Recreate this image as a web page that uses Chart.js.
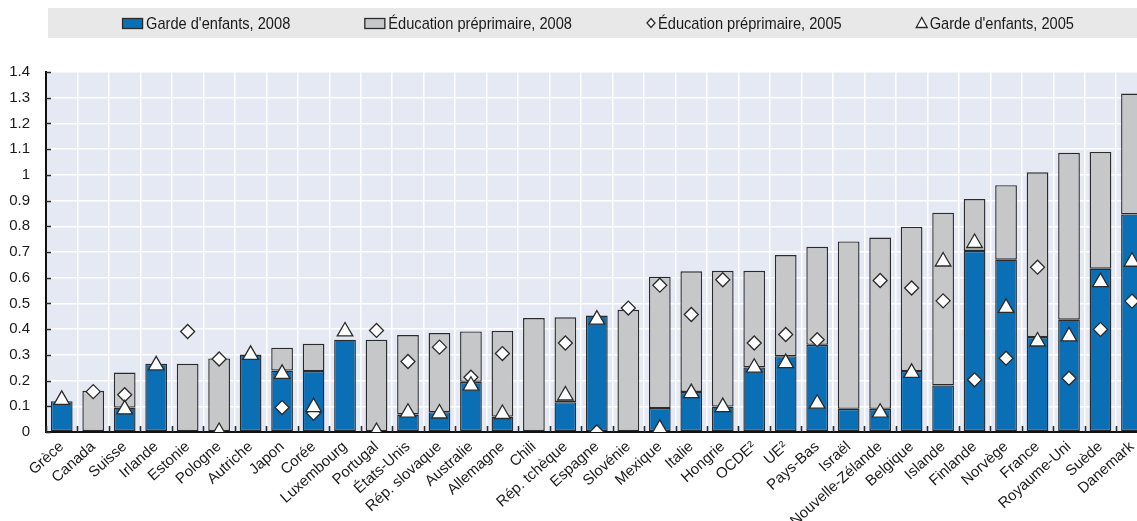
<!DOCTYPE html>
<html lang="fr">
<head>
<meta charset="utf-8">
<title>Dépenses publiques : garde d'enfants et éducation préprimaire</title>
<script src="https://cdn.jsdelivr.net/npm/chart.js@4.4.1/dist/chart.umd.min.js"></script>
<style>
  html, body { margin: 0; padding: 0; background: #ffffff; overflow: hidden; }
  #wrap { position: relative; width: 1137px; height: 521px; overflow: hidden; }
  canvas { display: block; }
</style>
</head>
<body>
<div id="wrap"><canvas id="chart" width="1158" height="521"></canvas></div>
<script>
// Pays, classés par dépense totale 2008
const countries = [
  'Grèce', 'Canada', 'Suisse', 'Irlande', 'Estonie', 'Pologne', 'Autriche', 'Japon', 'Corée',
  'Luxembourg', 'Portugal', 'États-Unis', 'Rép. slovaque', 'Australie', 'Allemagne', 'Chili',
  'Rép. tchèque', 'Espagne', 'Slovénie', 'Mexique', 'Italie', 'Hongrie', 'OCDE²', 'UE²',
  'Pays-Bas', 'Israël', 'Nouvelle-Zélande', 'Belgique', 'Islande', 'Finlande', 'Norvège',
  'France', 'Royaume-Uni', 'Suède', 'Danemark'
];

// Garde d'enfants, 2008 (% du PIB)
const gardeEnfants2008 = [
  0.12, null, 0.095, 0.265, null, null, 0.301, 0.239, 0.237,
  0.359, null, 0.068, 0.077, 0.195, 0.06, null,
  0.116, 0.453, null, 0.093, 0.156, 0.099, 0.251, 0.295,
  0.339, 0.09, 0.09, 0.237, 0.181, 0.704, 0.67,
  0.369, 0.437, 0.635, 0.846
];

// Éducation préprimaire, 2008 (% du PIB), empilée sur la garde d'enfants
const educationPreprimaire2008 = [
  null, 0.16, 0.136, null, 0.265, 0.286, null, 0.089, 0.106,
  null, 0.359, 0.309, 0.308, 0.196, 0.333, 0.443,
  0.33, null, 0.475, 0.511, 0.469, 0.528, 0.376, 0.393,
  0.381, 0.651, 0.666, 0.561, 0.672, 0.202, 0.29,
  0.641, 0.649, 0.454, 0.47
];

// Éducation préprimaire, 2005 (% du PIB)
const educationPreprimaire2005 = [
  null, 0.157, 0.145, null, 0.391, 0.284, null, 0.095, 0.073,
  null, 0.395, 0.274, 0.33, 0.213, 0.305, null,
  0.346, 0, 0.482, 0.571, 0.457, 0.592, 0.346, 0.379,
  0.359, null, 0.589, 0.56, 0.51, 0.203, 0.287,
  0.641, 0.209, 0.399, 0.509
];

// Garde d'enfants, 2005 (% du PIB)
const gardeEnfants2005 = [
  0.125, null, 0.088, 0.259, null, 0, 0.30, 0.226, 0.097,
  0.391, 0, 0.075, 0.072, 0.18, 0.07, null,
  0.142, 0.437, null, 0.012, 0.151, 0.097, 0.25, 0.268,
  0.11, null, 0.075, 0.23, 0.663, 0.735, 0.483,
  0.352, 0.372, 0.583, 0.662
];

// Graduations de l'axe vertical
const yTicks = { min: 0, max: 1.4, step: 0.1 };

const FONT = '"Liberation Sans Narrow", "Arial Narrow", "Liberation Sans", Arial, sans-serif';
const BLUE = '#0a6fb5';
const GREY = '#c6c7c9';
const EDGE = '#2b2b2b';
const PLOT_BG = '#e5e9f4';
const BAND_BG = '#e8e8e9';

// Fond de la zone de tracé et bandeau de légende
const backdrop = {
  id: 'backdrop',
  beforeDraw(chart) {
    const { ctx, chartArea: a, width } = chart;
    ctx.save();
    ctx.fillStyle = '#ffffff';
    ctx.fillRect(0, 0, width, chart.height);
    ctx.fillStyle = PLOT_BG;
    ctx.fillRect(a.left, a.top, a.right - a.left, a.bottom - a.top);
    ctx.fillStyle = BAND_BG;
    ctx.fillRect(a.left + 2, 8, width - a.left - 2, 30);
    ctx.restore();
  }
};

// Petites graduations tournées vers l'intérieur du tracé
const innerTicks = {
  id: 'innerTicks',
  afterDraw(chart) {
    const { ctx, chartArea: a } = chart;
    const xs = chart.scales.x, ys = chart.scales.y;
    const step = xs.getPixelForValue(1) - xs.getPixelForValue(0);
    ctx.save();
    ctx.strokeStyle = EDGE;
    ctx.lineWidth = 1.6;
    ctx.beginPath();
    for (let i = 0; i <= countries.length; i++) {
      const px = Math.round(xs.getPixelForValue(i) - step / 2) + 0.5;
      ctx.moveTo(px, a.bottom);
      ctx.lineTo(px, a.bottom - 6);
    }
    ys.ticks.forEach(t => {
      const py = Math.round(ys.getPixelForValue(t.value)) + 0.5;
      ctx.moveTo(a.left, py);
      ctx.lineTo(a.left + 5, py);
    });
    ctx.stroke();
    ctx.restore();
  }
};

// Légende en bandeau : cases pour les barres, symboles pour les points
const bandLegend = {
  id: 'bandLegend',
  afterDraw(chart) {
    const { ctx, chartArea: a } = chart;
    const order = [3, 2, 1, 0];
    const items = order.map(i => chart.data.datasets[i]);
    const squeeze = 0.86;
    ctx.save();
    ctx.font = '17px ' + FONT;
    ctx.textBaseline = 'middle';
    const symW = [23, 23, 11, 13];
    const widths = items.map((d, k) => symW[k] + 1 + ctx.measureText(d.label).width * squeeze);
    const left = a.left + 2, span = 1148 - left;
    const gap = (span - widths.reduce((s, w) => s + w, 0)) / (items.length + 1);
    const cy = 23;
    let x = left + gap;
    items.forEach((d, k) => {
      ctx.lineWidth = 1.3;
      ctx.strokeStyle = EDGE;
      if (k < 2) {
        ctx.fillStyle = d.backgroundColor;
        ctx.fillRect(x, cy - 5, 21, 11);
        ctx.strokeRect(x + 0.5, cy - 4.5, 20, 10);
      } else if (d.pointStyle === 'rectRot') {
        ctx.fillStyle = '#ffffff';
        ctx.beginPath();
        ctx.moveTo(x + 1, cy); ctx.lineTo(x + 5, cy - 4.5);
        ctx.lineTo(x + 9, cy); ctx.lineTo(x + 5, cy + 4.5);
        ctx.closePath(); ctx.fill(); ctx.stroke();
      } else {
        ctx.fillStyle = '#ffffff';
        ctx.beginPath();
        ctx.moveTo(x + 6, cy - 5.5); ctx.lineTo(x + 11.5, cy + 4.5);
        ctx.lineTo(x + 0.5, cy + 4.5);
        ctx.closePath(); ctx.fill(); ctx.stroke();
      }
      ctx.fillStyle = '#1a1a1a';
      ctx.save();
      ctx.translate(x + symW[k] + 1, cy + 1);
      ctx.scale(squeeze, 1);
      ctx.fillText(d.label, 0, 0);
      ctx.restore();
      x += widths[k] + gap;
    });
    ctx.restore();
  }
};

const markerBase = {
  type: 'line',
  showLine: false,
  pointBackgroundColor: '#ffffff',
  pointBorderColor: EDGE,
  pointBorderWidth: 1.3,
  pointHoverRadius: 9
};

new Chart(document.getElementById('chart'), {
  type: 'bar',
  data: {
    labels: countries,
    datasets: [
      Object.assign({}, markerBase, {
        label: "Garde d'enfants, 2005",
        data: gardeEnfants2005,
        stack: 'garde2005',
        pointStyle: 'triangle',
        pointRadius: 9,
        order: 0
      }),
      Object.assign({}, markerBase, {
        label: 'Éducation préprimaire, 2005',
        data: educationPreprimaire2005,
        stack: 'pre2005',
        pointStyle: 'rectRot',
        pointRadius: 7,
        order: 1
      }),
      {
        label: 'Éducation préprimaire, 2008',
        data: educationPreprimaire2008,
        backgroundColor: GREY,
        borderColor: EDGE,
        borderWidth: 1.4,
        borderSkipped: false,
        stack: 'total2008',
        order: 3
      },
      {
        label: "Garde d'enfants, 2008",
        data: gardeEnfants2008,
        backgroundColor: BLUE,
        borderColor: EDGE,
        borderWidth: 1.4,
        borderSkipped: false,
        stack: 'total2008',
        order: 2
      }
    ]
  },
  options: {
    responsive: false,
    animation: false,
    events: [],
    layout: { padding: { top: 72, right: 0, bottom: 0, left: 0 } },
    datasets: { bar: { categoryPercentage: 1, barPercentage: 0.69 } },
    plugins: {
      legend: { display: false },
      tooltip: { enabled: false }
    },
    scales: {
      x: {
        stacked: true,
        offset: true,
        grid: { offset: true, color: '#ffffff', lineWidth: 1.5, drawTicks: false },
        border: { color: '#111111', width: 2 },
        ticks: {
          autoSkip: false,
          minRotation: 42,
          maxRotation: 42,
          padding: 6,
          color: '#1a1a1a',
          font: { family: FONT, size: 15 }
        },
        afterFit(scale) { scale.height = 89; }
      },
      y: {
        stacked: true,
        min: yTicks.min,
        max: yTicks.max,
        grid: { color: '#ffffff', lineWidth: 1.5, drawTicks: false },
        border: { color: '#111111', width: 2 },
        ticks: {
          stepSize: yTicks.step,
          padding: 16,
          color: '#1a1a1a',
          font: { family: FONT, size: 15 },
          callback: v => String(Number(v.toFixed(1)))
        },
        afterFit(scale) { scale.width = 46; }
      }
    }
  },
  plugins: [backdrop, innerTicks, bandLegend]
});
</script>
</body>
</html>
